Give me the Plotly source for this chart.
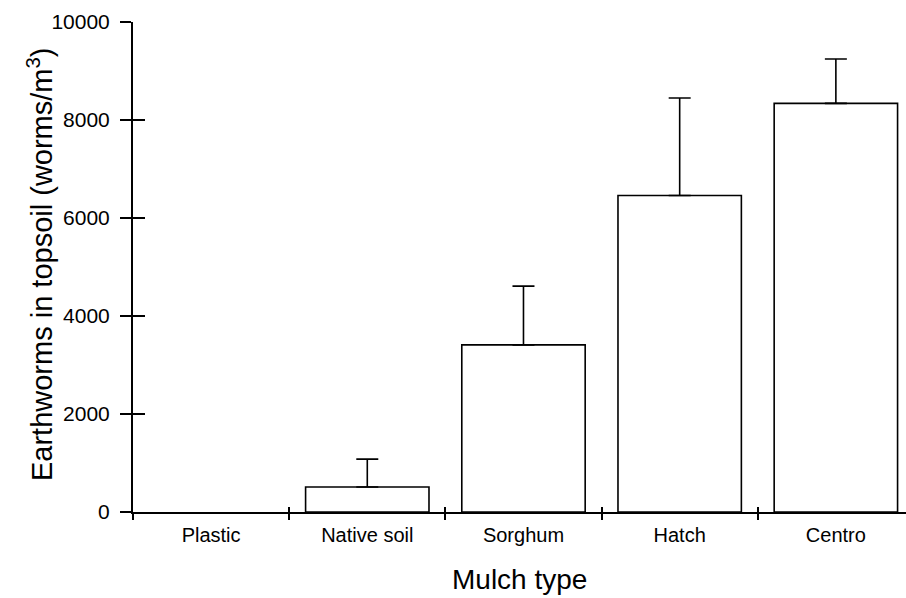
import plotly.graph_objects as go

# Earthworm density in topsoil by mulch type (mean + upper SE)
mulch_types = ["Plastic", "Native soil", "Sorghum", "Hatch", "Centro"]
worm_density = [0, 510, 3410, 6460, 8340]
density_error = [0, 570, 1200, 1990, 905]
y_ticks = [0, 2000, 4000, 6000, 8000, 10000]
y_tick_labels = ["0", "2000", "4000", "6000", "8000", "10000"]

FONT = "Liberation Sans, Arial, Helvetica, sans-serif"
INK = "black"

# zero-height bars get no outline, so nothing sits on the baseline
outline_widths = [1.6 if v > 0 else 0 for v in worm_density]

fig = go.Figure()

fig.add_trace(go.Bar(
    x=mulch_types,
    y=worm_density,
    width=0.79,
    marker=dict(color="white", line=dict(color=INK, width=outline_widths)),
    showlegend=False,
    hoverinfo="x+y",
))

# upper error bars, only for the bars that carry one
has_err = [e > 0 for e in density_error]
fig.add_trace(go.Scatter(
    x=[c for c, k in zip(mulch_types, has_err) if k],
    y=[v for v, k in zip(worm_density, has_err) if k],
    mode="markers",
    marker=dict(size=1, opacity=0),
    error_y=dict(
        type="data",
        array=[e for e, k in zip(density_error, has_err) if k],
        arrayminus=[0 for k in has_err if k],
        symmetric=False,
        color=INK,
        thickness=1.6,
        width=11,
    ),
    hoverinfo="skip",
    showlegend=False,
))

n = len(mulch_types)
x_range = [-0.5, 4.449]

fig.update_layout(
    width=906,
    height=598,
    margin=dict(l=133, r=0, t=22, b=86),
    paper_bgcolor="white",
    plot_bgcolor="white",
    font=dict(family=FONT, color=INK),
    xaxis=dict(
        type="category",
        categoryorder="array",
        categoryarray=mulch_types,
        range=x_range,
        tickson="boundaries",
        ticks="outside",
        ticklen=6,
        tickwidth=1.6,
        tickcolor=INK,
        showline=True,
        linecolor=INK,
        linewidth=2,
        showgrid=False,
        zeroline=False,
        tickfont=dict(size=20, family=FONT, color=INK),
        ticklabelstandoff=4,
    ),
    # companion axis: the inner half of the crossing category ticks
    xaxis2=dict(
        overlaying="x",
        anchor="y",
        range=x_range,
        tickvals=[i + 0.5 for i in range(n - 1)],
        ticks="inside",
        ticklen=5,
        tickwidth=1.6,
        tickcolor=INK,
        showticklabels=False,
        showgrid=False,
        zeroline=False,
        showline=False,
    ),
    yaxis=dict(
        range=[0, 10000],
        tickvals=y_ticks,
        ticktext=y_tick_labels,
        ticks="outside",
        ticklen=11,
        tickwidth=1.6,
        tickcolor=INK,
        showline=True,
        linecolor=INK,
        linewidth=2,
        showgrid=False,
        zeroline=False,
        tickfont=dict(size=21, family=FONT, color=INK),
        ticklabelstandoff=6,
    ),
    # companion axis: the inner half of the crossing value ticks
    yaxis2=dict(
        overlaying="y",
        anchor="x",
        range=[0, 10000],
        tickvals=y_ticks,
        ticks="inside",
        ticklen=12,
        tickwidth=1.6,
        tickcolor=INK,
        showticklabels=False,
        showgrid=False,
        zeroline=False,
        showline=False,
    ),
)

# empty helper traces so the companion axes are drawn
fig.add_trace(go.Scatter(x=[0], y=[0], xaxis="x2", yaxis="y", mode="none",
                         hoverinfo="skip", showlegend=False))
fig.add_trace(go.Scatter(x=[mulch_types[0]], y=[0], xaxis="x", yaxis="y2", mode="none",
                         hoverinfo="skip", showlegend=False))

fig.add_annotation(
    text="Earthworms in topsoil (worms/m<sup>3</sup>)",
    xref="paper", yref="paper",
    x=-0.1203, y=0.504,
    xanchor="center", yanchor="middle",
    textangle=-90,
    showarrow=False,
    font=dict(size=29, family=FONT, color=INK),
)
fig.add_annotation(
    text="Mulch type",
    xref="paper", yref="paper",
    x=0.5, y=-0.137,
    xanchor="center", yanchor="middle",
    showarrow=False,
    font=dict(size=28, family=FONT, color=INK),
)

fig.write_html("out.html")
